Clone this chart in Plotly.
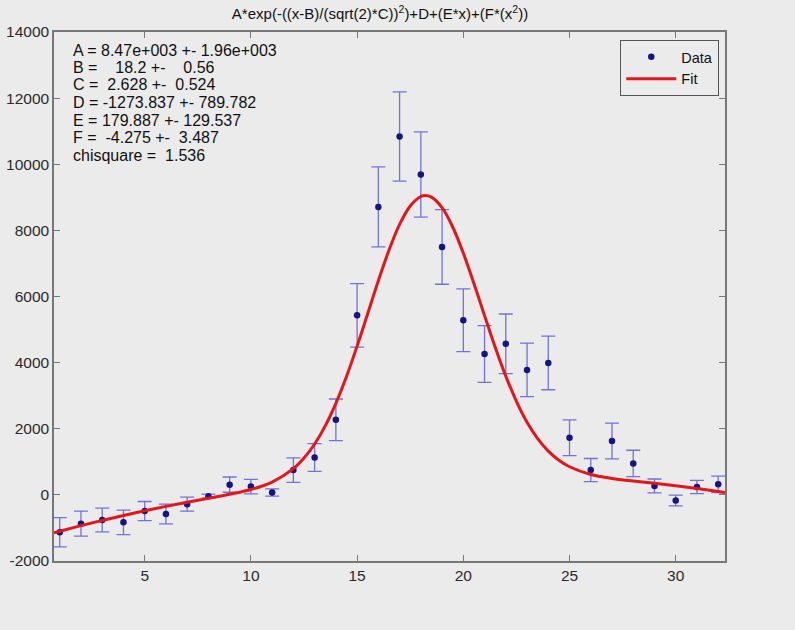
import plotly.graph_objects as go

# Data points
data_x = list(range(1, 33))
data_y = [-1130, -870, -760, -830, -490, -580, -280, -40, 310, 250, 70, 750,
          1130, 2270, 5430, 8710, 10840, 9690, 7500, 5280, 4260, 4570, 3780, 3990,
          1730, 750, 1630, 950, 270, -170, 240, 320]
data_err = [440, 380, 360, 370, 290, 300, 210, 60, 230, 220, 110, 370,
            420, 630, 960, 1210, 1350, 1290, 1130, 950, 860, 900, 810, 810,
            540, 350, 540, 400, 210, 160, 200, 250]

# Fit curve
fit_x = [0.73, 1, 2, 3, 4, 5, 6, 7, 8, 9, 10, 11, 12, 12.5, 13, 13.5, 14, 14.5, 15,
         15.5, 16, 16.5, 17, 17.5, 18, 18.2, 18.5, 19, 19.5, 20, 20.5, 21, 21.5, 22,
         22.5, 23, 23.5, 24, 24.5, 25, 26, 27, 28, 29, 30, 31, 32, 32.32]
fit_y = [-1145, -1098, -931, -773, -623, -481, -348, -224, -104, 17, 163, 387, 793,
         1113, 1538, 2088, 2769, 3580, 4499, 5484, 6476, 7401, 8181, 8739, 9024, 9054,
         9006, 8687, 8102, 7313, 6392, 5421, 4468, 3593, 2831, 2199, 1702, 1323, 1046,
         850, 617, 498, 419, 350, 275, 194, 105, 75]

x_ticks = [5, 10, 15, 20, 25, 30]
x_tick_labels = ["5", "10", "15", "20", "25", "30"]
y_ticks = [-2000, 0, 2000, 4000, 6000, 8000, 10000, 12000, 14000]
y_tick_labels = ["-2000", "0", "2000", "4000", "6000", "8000", "10000", "12000", "14000"]

title_text = "A*exp(-((x-B)/(sqrt(2)*C))<sup>2</sup>)+D+(E*x)+(F*(x<sup>2</sup>))"
nb = "\u00a0"
info_lines = [
    "A = 8.47e+003 +- 1.96e+003",
    "B =" + nb * 4 + "18.2 +-" + nb * 4 + "0.56",
    "C =" + nb * 2 + "2.628 +-" + nb * 2 + "0.524",
    "D = -1273.837 +- 789.782",
    "E = 179.887 +- 129.537",
    "F =" + nb * 2 + "-4.275 +-" + nb * 2 + "3.487",
    "chisquare =" + nb * 2 + "1.536",
]

bg = "#ebebeb"
font_family = "Liberation Sans, Arial, sans-serif"

fig = go.Figure()
fig.add_trace(go.Scatter(
    x=data_x, y=data_y, mode="markers", name="Data",
    marker=dict(color="#141482", size=6.5),
    error_y=dict(type="data", array=data_err, visible=True,
                 color="#7272d6", thickness=1.3, width=7),
))
fig.add_trace(go.Scatter(
    x=fit_x, y=fit_y, mode="lines", name="Fit",
    line=dict(color="#e4161c", width=3, shape="spline"),
))

axis_common = dict(
    showline=True, linecolor="#777777", linewidth=1.5, mirror="ticks",
    ticks="inside", ticklen=6, tickcolor="#777777", tickwidth=1,
    showgrid=False, zeroline=False, automargin=False,
    tickfont=dict(family=font_family, size=15.5, color="#2a2a2a"),
)

fig.update_layout(
    width=795, height=630,
    margin=dict(l=54, r=70, t=32, b=69),
    paper_bgcolor=bg, plot_bgcolor=bg,
    font=dict(family=font_family, color="#111111"),
    title=dict(text=title_text, x=0.478, xanchor="center", y=0.978, yanchor="middle",
               font=dict(family=font_family, size=15, color="#111111")),
    xaxis=dict(range=[0.73, 32.32], tickvals=x_ticks, ticktext=x_tick_labels, **axis_common),
    yaxis=dict(range=[-2000, 14000], tickvals=y_ticks, ticktext=y_tick_labels, **axis_common),
    legend=dict(x=0.9915, y=0.985, xanchor="right", yanchor="top",
                bgcolor=bg, bordercolor="#555555", borderwidth=1,
                font=dict(family=font_family, size=14.5, color="#111111"),
                tracegroupgap=0, itemwidth=50),
    showlegend=True,
)

# Parameter text, one annotation per line (plot top is at y=32px, height 529px)
line_px = [50, 67.5, 85, 102.5, 120, 137.5, 155]
for txt, py in zip(info_lines, line_px):
    fig.add_annotation(
        xref="paper", yref="paper", x=(71 - 54) / 671, y=(561 - py) / 529,
        xanchor="left", yanchor="middle",
        text=txt, showarrow=False, align="left",
        font=dict(family=font_family, size=16, color="#111111"),
    )

fig.write_html("out.html", config={"displayModeBar": False},
               post_script="document.body.style.margin='0';")
